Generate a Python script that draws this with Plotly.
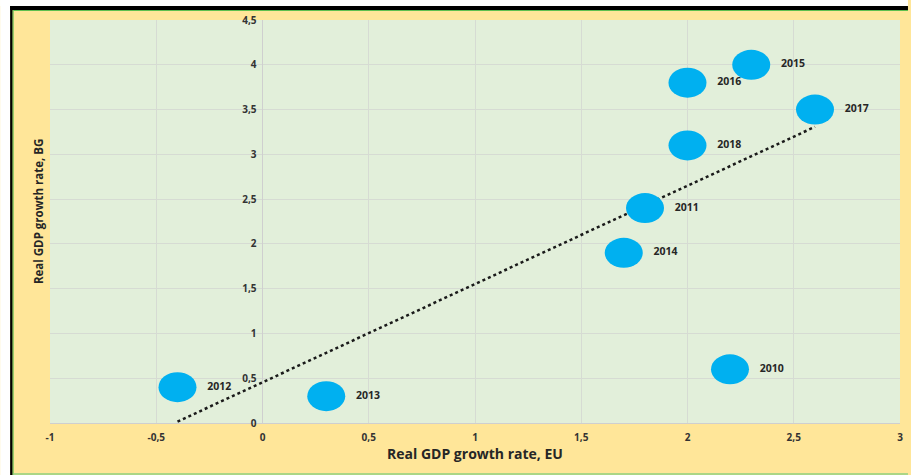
import numpy as np
import plotly.graph_objects as go

years = ["2010", "2011", "2012", "2013", "2014", "2015", "2016", "2017", "2018"]
eu_growth = [2.2, 1.8, -0.4, 0.3, 1.7, 2.3, 2.0, 2.6, 2.0]
bg_growth = [0.6, 2.4, 0.4, 0.3, 1.9, 4.0, 3.8, 3.5, 3.1]

x_ticks = [-1, -0.5, 0, 0.5, 1, 1.5, 2, 2.5, 3]
x_ticklabels = ["-1", "-0,5", "0", "0,5", "1", "1,5", "2", "2,5", "3"]
y_ticks = [0, 0.5, 1, 1.5, 2, 2.5, 3, 3.5, 4, 4.5]
y_ticklabels = ["0", "0,5", "1", "1,5", "2", "2,5", "3", "3,5", "4", "4,5"]

W, H = 911, 475
ML, MR, MT, MB = 50, 8, 20, 52
PW, PH = W - ML - MR, H - MT - MB

def px(v):
    return (v - ML) / PW

def py(v):
    return 1 - (v - MT) / PH

slope, intercept = np.polyfit(eu_growth, bg_growth, 1)
tx = [min(eu_growth), max(eu_growth)]
ty = [slope * v + intercept for v in tx]

fig = go.Figure()
fig.add_trace(go.Scatter(x=tx, y=ty, mode="lines",
                         line=dict(color="#1a1a1a", width=2.5, dash="dot"),
                         hoverinfo="skip", showlegend=False))
fig.add_trace(go.Scatter(x=eu_growth, y=bg_growth, mode="markers+text",
                         marker=dict(size=46, color="rgba(0,0,0,0)"),
                         text=years, textposition="middle right",
                         textfont=dict(family="Open Sans", size=10.5, color="#262626", weight="bold"),
                         showlegend=False))

shapes = []
for xv, yv in zip(eu_growth, bg_growth):
    shapes.append(dict(type="circle", xref="x", yref="y",
                       xsizemode="pixel", ysizemode="pixel",
                       xanchor=xv, yanchor=yv, x0=-19, x1=19, y0=-15, y1=15,
                       fillcolor="#00B0F0", line=dict(width=0), layer="above"))

# frame decoration
shapes += [
    dict(type="rect", xref="paper", yref="paper", x0=px(0), x1=px(W), y0=py(0), y1=py(6),
         fillcolor="white", line=dict(width=0), layer="below"),
    dict(type="rect", xref="paper", yref="paper", x0=px(0), x1=px(10), y0=py(0), y1=py(H),
         fillcolor="white", line=dict(width=0), layer="below"),
    dict(type="rect", xref="paper", yref="paper", x0=px(10), x1=px(W), y0=py(6), y1=py(10),
         fillcolor="black", line=dict(width=0), layer="below"),
    dict(type="rect", xref="paper", yref="paper", x0=px(10), x1=px(12.5), y0=py(6), y1=py(H),
         fillcolor="black", line=dict(width=0), layer="below"),
    dict(type="line", xref="paper", yref="paper", x0=px(13), x1=px(W), y0=py(10.5), y1=py(10.5),
         line=dict(color="#5fbf4f", width=1), layer="below"),
    dict(type="line", xref="paper", yref="paper", x0=px(13), x1=px(13), y0=py(10.5), y1=py(H),
         line=dict(color="#5fbf4f", width=1), layer="below"),
    dict(type="line", xref="paper", yref="paper", x0=px(13), x1=px(W), y0=py(474), y1=py(474),
         line=dict(color="#8fd07f", width=1.5), layer="below"),
]

fig.update_layout(
    width=W, height=H,
    margin=dict(l=ML, r=MR, t=MT, b=MB),
    paper_bgcolor="#FFE699",
    plot_bgcolor="#E2EFDA",
    shapes=shapes,
    font=dict(family="Open Sans", color="#262626"),
    xaxis=dict(range=[-1, 3], tickvals=x_ticks, ticktext=x_ticklabels,
               showgrid=True, gridcolor="#D6DBD3", gridwidth=1,
               zeroline=True, zerolinecolor="#CFCFCF", zerolinewidth=1,
               showline=True, linecolor="#CFCFCF", linewidth=1,
               ticks="", ticklabelstandoff=5,
               tickfont=dict(size=10, weight="bold", color="#333333"),
               title=dict(text="Real GDP growth rate, EU", standoff=3,
                          font=dict(size=14, weight="bold", color="#262626"))),
    yaxis=dict(range=[0, 4.5], tickvals=y_ticks, ticktext=y_ticklabels,
               anchor="free", position=0.25,
               showgrid=True, gridcolor="#D6DBD3", gridwidth=1,
               zeroline=False, showline=False,
               ticks="", ticklabelstandoff=6,
               tickfont=dict(size=10, weight="bold", color="#333333")),
    annotations=[dict(text="Real GDP growth rate, BG", xref="paper", yref="paper",
                      x=px(38), y=py(212), xanchor="center", yanchor="middle",
                      textangle=-90, showarrow=False,
                      font=dict(size=11.5, weight="bold", color="#262626"))],
)

fig.write_html("out.html")
